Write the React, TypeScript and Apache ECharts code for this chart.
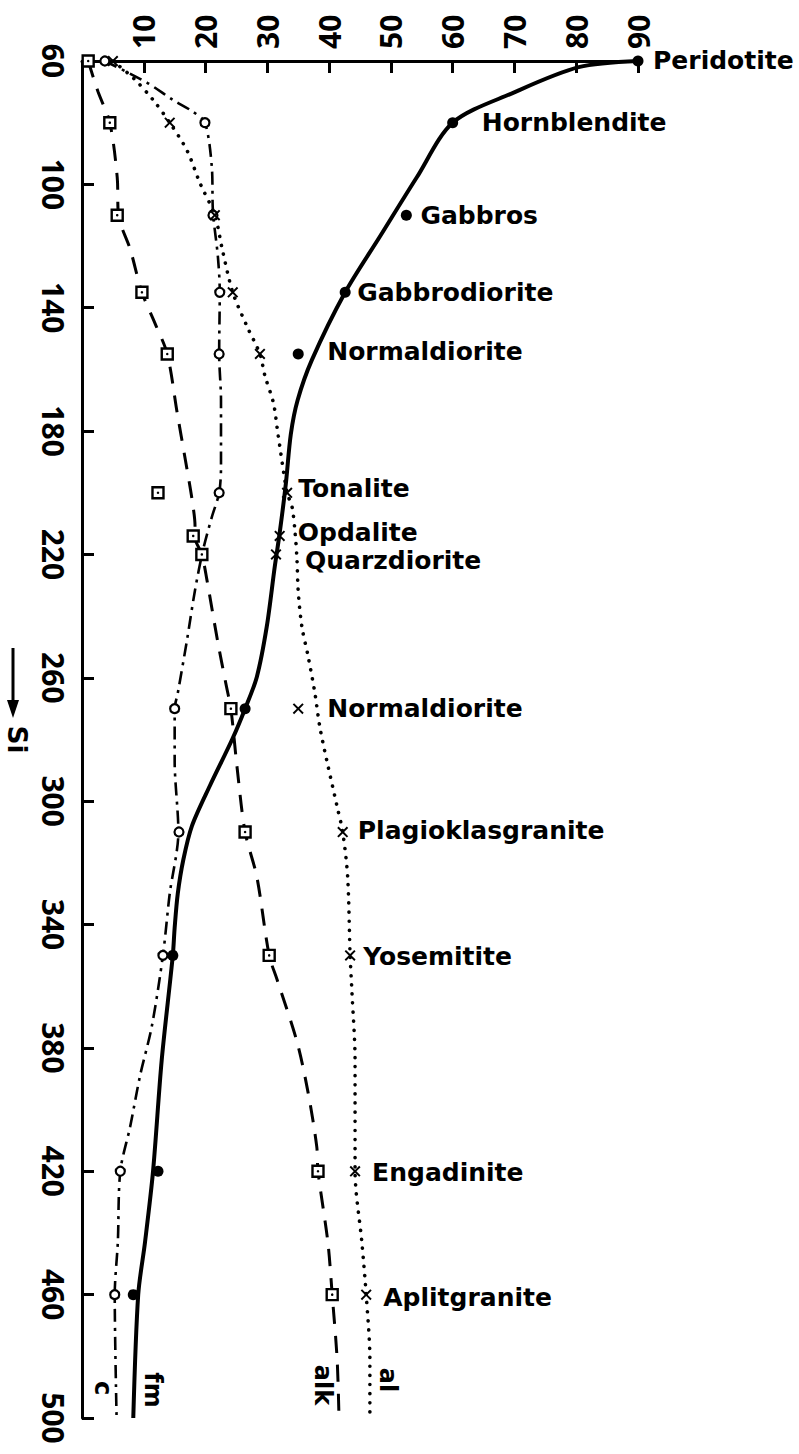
import React, { useEffect, useRef } from 'react';
import * as echarts from 'echarts';

// ---- axes ----
const X_MIN = 0;
const X_MAX = 90;
const X_STEP = 10;
const SI_MIN = 60;
const SI_MAX = 500;
const SI_STEP = 40;

// ---- rock rows ----
const rocks = [
  'Peridotite', 'Hornblendite', 'Gabbros', 'Gabbrodiorite', 'Normaldiorite',
  'Tonalite', 'Opdalite', 'Quarzdiorite', 'Normaldiorite', 'Plagioklasgranite',
  'Yosemitite', 'Engadinite', 'Aplitgranite',
];
const rockSi = [60, 80, 110, 135, 155, 200, 214, 220, 270, 310, 350, 420, 460];
const fmValues = [90, 60, 52.5, 42.6, 35.0, null, null, null, 26.4, null, 14.7, 12.3, 8.3];
const cValues = [3.7, 19.9, 21.2, 22.3, 22.2, 22.2, null, null, 15.0, 15.7, 13.1, 6.2, 5.3];
const alValues = [5.0, 14.2, 21.5, 24.4, 28.8, 33.2, 32.0, 31.4, 35.0, 42.2, 43.4, 44.2, 46.0];
const alkValues = [1.0, 4.5, 5.7, 9.7, 13.8, 12.3, 18.0, 19.4, 24.1, 26.4, 30.3, 38.2, 40.5];

// ---- drawn curves [si, value] ----
const fmCurve = [
  [60, 90], [62, 80.4], [70.4, 69.7], [80, 60], [97.7, 54.2], [117, 48.2],
  [135, 42.6], [157, 37.2], [170, 34.9], [181, 33.8], [197, 33.0], [213, 32.0], [224, 31.2],
  [243.5, 29.9], [259.7, 28.3], [270, 26.4], [280, 24.3], [295, 20.7], [308, 17.8],
  [319, 16.4], [330, 15.5], [341, 15.0], [350, 14.7], [384, 12.9], [420, 11.5],
  [443, 10.2], [460, 9.1], [500, 8.3],
];
const cCurve = [
  [60, 3.7], [67, 10.5], [72.6, 14.7], [76.5, 18.0], [80, 19.9], [94, 21.0], [109, 21.2],
  [123.5, 22.0], [135, 22.3], [155, 22.2], [170, 22.5], [191.5, 22.5], [200, 22.2],
  [208, 21.0], [218.5, 19.6], [231.5, 18.3], [247.7, 17.0], [265, 15.5], [270, 15.0],
  [287, 15.0], [310, 15.6], [330, 14.2], [350, 13.1], [373, 11.3], [389, 9.4],
  [405.5, 7.8], [420, 6.2], [443, 5.8], [460, 5.3], [500, 5.6],
];
const alCurve = [
  [60, 5.0], [65.5, 8.3], [72.6, 11.5], [80, 14.2], [89, 17.0], [99.6, 19.1], [110, 21.5],
  [121, 22.7], [135, 24.4], [146, 26.7], [155, 28.8], [162, 29.6], [171, 31.0],
  [180.6, 31.7], [200, 33.2], [204.6, 34.0], [213, 34.5], [221.7, 34.8], [232, 35.0],
  [243.5, 35.6], [253, 36.6], [265, 37.7], [276, 38.5], [286.6, 39.6], [301.8, 41.3],
  [310, 42.2], [324.5, 43.0], [350, 43.4], [362, 43.7], [384, 44.2], [420, 44.2],
  [443, 45.3], [460, 46.0], [481, 46.6], [500, 46.6],
];
const alkCurve = [
  [60, 1.0], [70, 2.6], [80, 4.5], [97.7, 5.7], [110, 5.9], [121, 7.8], [135, 9.7],
  [145, 11.8], [155, 13.8], [174, 15.4], [189, 16.7], [202, 17.8], [211, 18.3],
  [214, 18.2], [220, 19.4], [228, 20.2], [248.6, 22.0], [263, 23.4], [270, 24.1],
  [289, 25.1], [310, 26.4], [324.5, 28.3], [350, 30.3], [358, 31.6], [378, 34.8],
  [394.5, 36.6], [412, 38.0], [420, 38.2], [443, 39.8], [460, 40.5], [481, 41.3],
  [500, 41.6],
];
const curveNames = ['fm', 'c', 'alk', 'al'];

// ---- layout (pixel offsets, not data) ----
const rockLabelOffsets = [
  [15, -1], [29, 0], [14, 0], [12, 0], [29, -2], [11, -4], [18, -3], [29, 6],
  [29, 0], [15, -2], [13, 1], [17, 1], [17, 3],
];
const curveNameOffsets = [[20, -28], [-14, -30], [-16, -33], [18, -38]];

const BLACK = '#000';
const crossPath =
  'path://M1.5,0 L6,4.5 L10.5,0 L12,1.5 L7.5,6 L12,10.5 L10.5,12 L6,7.5 L1.5,12 L0,10.5 L4.5,6 L0,1.5 Z';

function toXY(curve: number[][]) {
  return curve.map(([si, v]) => [v, si]);
}
function pts(values: (number | null)[]) {
  const out: number[][] = [];
  values.forEach((v, i) => {
    if (v !== null) out.push([v, rockSi[i]]);
  });
  return out;
}

export default function App() {
  const ref = useRef<HTMLDivElement>(null);
  useEffect(() => {
    if (!ref.current) return;
    const chart = echarts.init(ref.current, undefined, { renderer: 'svg' });
    const tickFont = { fontFamily: 'Open Sans', fontWeight: 'bold' as const, fontSize: 30, color: BLACK };

    const labelData = rocks.map((name, i) => {
      const cands = [fmValues[i], alValues[i]].filter((v) => v !== null) as number[];
      const anchor = Math.max(...cands);
      return {
        name,
        value: [anchor, rockSi[i]],
        label: { offset: rockLabelOffsets[i] },
      };
    });

    const scatterBase = { type: 'scatter', z: 5, emphasis: { disabled: true } };

    const option: any = {
      animation: false,
      backgroundColor: '#fff',
      grid: {
        left: 82, right: 161, top: 61, bottom: 36,
        containLabel: false, outerBoundsMode: 'none',
      },
      xAxis: {
        type: 'value',
        position: 'top',
        min: X_MIN,
        max: X_MAX,
        interval: X_STEP,
        splitLine: { show: false },
        axisLine: { onZero: false, lineStyle: { color: BLACK, width: 3 } },
        axisTick: { inside: true, length: 12, lineStyle: { color: BLACK, width: 3 } },
        axisLabel: {
          ...tickFont,
          rotate: -90,
          margin: 12,
          formatter: (v: number) => (v === 0 ? '' : String(v)),
        },
      },
      yAxis: {
        type: 'value',
        inverse: true,
        min: SI_MIN,
        max: SI_MAX,
        interval: SI_STEP,
        splitLine: { show: false },
        axisLine: { onZero: false, lineStyle: { color: BLACK, width: 3 } },
        axisTick: { inside: true, length: 12, lineStyle: { color: BLACK, width: 3 } },
        axisLabel: { ...tickFont, rotate: -90, margin: 14 },
        name: 'Si',
        nameLocation: 'middle',
        nameRotate: -90,
        nameGap: 50,
        nameTextStyle: { fontFamily: 'DejaVu Sans', fontWeight: 'bold', fontSize: 26, color: BLACK },
      },
      series: [
        {
          name: 'fm', type: 'line', data: toXY(fmCurve), smooth: 0.3, symbol: 'none', z: 2,
          lineStyle: { color: BLACK, width: 4 },
        },
        {
          name: 'c', type: 'line', data: toXY(cCurve), smooth: 0.3, symbol: 'none', z: 2,
          lineStyle: { color: BLACK, width: 2.6, type: [13, 6, 3, 6] },
        },
        {
          name: 'alk', type: 'line', data: toXY(alkCurve), smooth: 0.3, symbol: 'none', z: 2,
          lineStyle: { color: BLACK, width: 3, type: [17, 12] },
        },
        {
          name: 'al', type: 'line', data: toXY(alCurve), smooth: 0.3, symbol: 'none', z: 2,
          lineStyle: { color: BLACK, width: 3.6, type: [0.1, 9], cap: 'round' },
        },
        {
          ...scatterBase, name: 'fm points', data: pts(fmValues), symbol: 'circle', symbolSize: 11,
          itemStyle: { color: BLACK, opacity: 1 },
        },
        {
          ...scatterBase, name: 'c points', data: pts(cValues), symbol: 'circle', symbolSize: 9,
          itemStyle: { color: '#fff', borderColor: BLACK, borderWidth: 2.2, opacity: 1 },
        },
        {
          ...scatterBase, name: 'al points', data: pts(alValues), symbol: crossPath, symbolSize: 11,
          itemStyle: { color: BLACK, opacity: 1 },
        },
        {
          ...scatterBase, name: 'alk points', data: pts(alkValues), symbol: 'rect', symbolSize: 11,
          itemStyle: { color: '#fff', borderColor: BLACK, borderWidth: 2.4, opacity: 1 },
        },
        {
          ...scatterBase, name: 'alk centres', data: pts(alkValues), symbol: 'circle', symbolSize: 2.5, z: 6,
          itemStyle: { color: BLACK, opacity: 1 },
        },
        {
          ...scatterBase, name: 'rock names', data: labelData, symbolSize: 0.1, z: 7,
          itemStyle: { color: 'transparent', opacity: 1 },
          label: {
            show: true,
            position: 'right',
            distance: 0,
            formatter: '{b}',
            fontFamily: 'DejaVu Sans',
            fontWeight: 'bold',
            fontSize: 25,
            color: BLACK,
            opacity: 1,
          },
        },
      ],
    };
    chart.setOption(option);

    const ends = [fmCurve, cCurve, alkCurve, alCurve].map((c) => c[c.length - 1]);
    const graphics: any[] = ends.map(([si, v], i) => {
      const p = chart.convertToPixel({ gridIndex: 0 }, [v, si]) as number[];
      return {
        type: 'text',
        x: p[0] + curveNameOffsets[i][0],
        y: p[1] + curveNameOffsets[i][1],
        rotation: -Math.PI / 2,
        style: {
          text: curveNames[i],
          fontFamily: 'DejaVu Sans',
          fontWeight: 'bold',
          fontSize: 24,
          fill: BLACK,
          align: 'center',
          verticalAlign: 'middle',
        },
      };
    });
    graphics.push(
      { type: 'line', shape: { x1: 13, y1: 648, x2: 13, y2: 704 }, style: { stroke: BLACK, lineWidth: 3 } },
      { type: 'polygon', shape: { points: [[7, 700], [19, 700], [13, 718]] }, style: { fill: BLACK } },
    );
    chart.setOption({ graphic: graphics });

    return () => chart.dispose();
  }, []);

  return (
    <div
      ref={ref}
      style={{ position: 'fixed', left: 0, top: 0, width: 799, height: 1454, background: '#fff' }}
    />
  );
}
